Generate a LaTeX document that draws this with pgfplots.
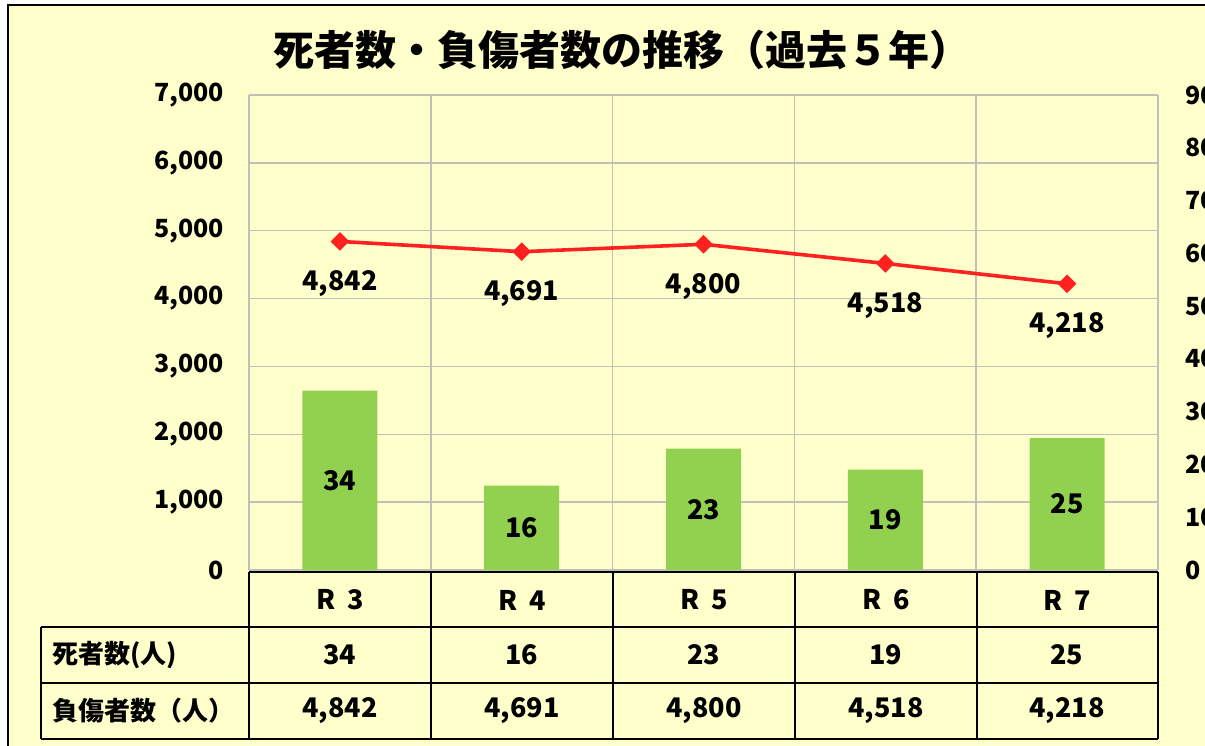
\documentclass[border=0pt]{standalone}
\usepackage{fontspec}
\setmainfont{Noto Sans CJK JP}
\usepackage{pgfplots}
\usepackage{pgfplotstable}
\pgfplotsset{compat=1.18}

\definecolor{bgc}{RGB}{255,255,204}
\definecolor{barc}{RGB}{146,208,80}
\definecolor{linec}{RGB}{255,32,32}
\definecolor{gridc}{RGB}{192,192,184}

\pgfkeys{/pgf/number format/.cd,1000 sep={,},assume math mode=true}

% deaths (right axis) and injured (left axis)
\pgfplotstableread{
x d inj
0 34 4842
1 16 4691
2 23 4800
3 19 4518
4 25 4218
}\datatab

\newcommand\fs[1]{\fontsize{#1}{#1}\selectfont\bfseries}

\pgfplotsset{
  base/.style={
    scale only axis, width=454.5bp, height=237.5bp,
    at={(124.5bp,-285bp)}, anchor=south west,
    xmin=-0.5, xmax=4.5,
    axis line style={draw=none},
    major tick length=0pt, minor tick length=0pt,
    tick label style={font=\fs{12.5bp}},
    clip=false,
  },
}

\begin{document}
\begin{tikzpicture}
\begin{scope}[x=0.5bp,y=-0.5bp]
  \fill[bgc] (8,5) rectangle (1300,800);
  \draw[line width=1bp] (1300,5) -- (8,5) -- (8,800);
  \node[font=\fs{20.5bp}] at (622,50) {死者数・負傷者数の推移（過去５年）};
\end{scope}

% grid and left axis
\begin{axis}[base,
  ymin=0, ymax=7000, ytick={0,1000,...,7000},
  xtick={-0.5,0.5,...,4.5}, xticklabels={},
  xmajorgrids, ymajorgrids,
  grid style={gridc, line width=0.75bp},
  yticklabel style={xshift=-9bp},
]
\end{axis}

% bars, right axis
\begin{axis}[base,
  ymin=0, ymax=90, ytick={0,10,...,90},
  axis y line*=right, xtick=\empty,
  yticklabel style={xshift=10bp},
]
\addplot[ybar, bar width=37.5bp, fill=barc, draw=none] table[x=x,y=d]{\datatab};
\addplot[draw=none, mark=none, nodes near coords, point meta=explicit,
  nodes near coords style={anchor=center, font=\fs{13.5bp}, text=black}]
  table[x=x, y expr=\thisrow{d}/2, meta=d]{\datatab};
\end{axis}

% line, left scale
\begin{axis}[base, ymin=0, ymax=7000, hide axis]
\addplot[linec, line width=1.8bp, mark=square*, mark size=2.4bp,
  mark options={rotate=45, fill=linec},
  nodes near coords,
  nodes near coords style={anchor=center, yshift=-21bp, font=\fs{13.5bp}, text=black}]
  table[x=x,y=inj]{\datatab};
\end{axis}

% data table under the chart
\begin{scope}[x=0.5bp,y=-0.5bp]
  \draw[line width=1.3bp] (249,572) -- (1158,572);
  \foreach \yy in {627,683,739} \draw[line width=1bp] (41,\yy) -- (1158,\yy);
  \draw[line width=1bp] (41,627) -- (41,739);
  \foreach \xx in {249,431,613,795,977,1158} \draw[line width=1bp] (\xx,572) -- (\xx,739);
  \node[anchor=west, font=\fs{13bp}] at (45,655) {死者数(人)};
  \node[anchor=west, font=\fs{13bp}] at (45,711) {負傷者数（人）};
  \foreach \cx/\r/\d/\j in {340/3/34/4842, 522/4/16/4691, 704/5/23/4800, 886/6/19/4518, 1067/7/25/4218} {
    \node[font=\fs{13.5bp}] at (\cx,600) {R\hspace{0.45em}\r};
    \node[font=\fs{13.5bp}] at (\cx,655) {\d};
    \node[font=\fs{13.5bp}] at (\cx,711) {\pgfmathprintnumber{\j}};
  }
\end{scope}

\pgfresetboundingbox
\useasboundingbox (0,0) rectangle (602.5bp,-373bp);
\end{tikzpicture}
\end{document}
